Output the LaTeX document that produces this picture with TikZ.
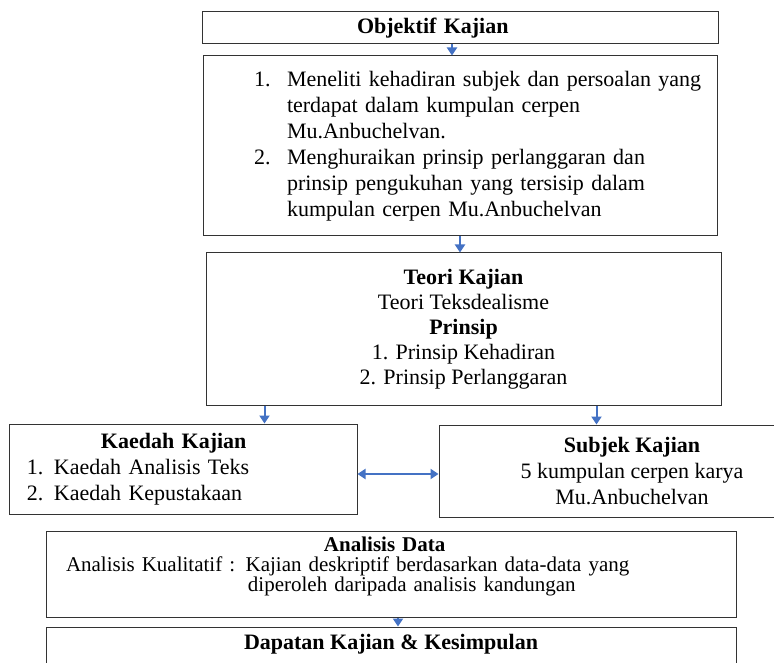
\documentclass[tikz,border=0pt]{standalone}
\usepackage{fontspec}
\setmainfont{Liberation Serif}
\usetikzlibrary{arrows.meta}
\definecolor{wordblue}{HTML}{4472C4}
\tikzstyle{box} = [rectangle, draw=black!80, line width=1pt, inner xsep=0pt, inner ysep=0pt, font=\fontsize{22}{26}\selectfont]
\tikzstyle{arrow} = [wordblue, line width=2pt, -{Triangle[width=10pt,length=8pt]}]
\tikzstyle{darrow} = [wordblue, line width=2pt, {Triangle[width=10pt,length=8pt]}-{Triangle[width=10pt,length=8pt]}]
\newcommand{\nomor}[2]{\makebox[#1][l]{#2}}

\begin{document}
\begin{tikzpicture}[x=1pt,y=-1pt]
    \useasboundingbox (0,0) rectangle (774,663);
    \clip (0,0) rectangle (774,663);
    \node (objektif) [box, minimum width=516, minimum height=32, text width=516, align=left] at (460,28)
        {\hspace*{155pt}\textbf{Objektif Kajian}};
    \node (tujuan) [box, minimum width=514, minimum height=180, text width=514, align=left] at (460,146)
        {\hspace*{51pt}\nomor{33pt}{1.}Meneliti kehadiran subjek dan persoalan yang\\
         \hspace*{84pt}terdapat dalam kumpulan cerpen\\
         \hspace*{84pt}Mu.Anbuchelvan.\\
         \hspace*{51pt}\nomor{33pt}{2.}Menghuraikan prinsip perlanggaran dan\\
         \hspace*{84pt}prinsip pengukuhan yang tersisip dalam\\
         \hspace*{84pt}kumpulan cerpen Mu.Anbuchelvan};
    \node (teori) [box, minimum width=515, minimum height=152, align=center, font=\fontsize{22}{25}\selectfont] at (463.5,329)
        {\textbf{Teori Kajian}\\ Teori Teksdealisme\\ \textbf{Prinsip}\\ 1. Prinsip Kehadiran\\ 2. Prinsip Perlanggaran};
    \node (kaedah) [box, minimum width=348, minimum height=90, text width=348, align=left] at (183,469)
        {\hspace*{92pt}\textbf{Kaedah Kajian}\\
         \hspace*{18pt}\nomor{27pt}{1.}Kaedah Analisis Teks\\
         \hspace*{18pt}\nomor{27pt}{2.}Kaedah Kepustakaan};
    \node (subjek) [box, minimum width=386, minimum height=92, align=center] at (632,471)
        {\textbf{Subjek Kajian}\\ 5 kumpulan cerpen karya\\ Mu.Anbuchelvan};
    \node (analisis) [box, minimum width=690, minimum height=86, text width=690, align=left, text depth=59pt, font=\fontsize{21}{20}\selectfont] at (391,574)
        {\hspace*{278pt}\textbf{Analisis Data}\\
         \hspace*{20pt}Analisis Kualitatif : Kajian deskriptif berdasarkan data-data yang\\
         \hspace*{202pt}diperoleh daripada analisis kandungan};
    \node (dapatan) [box, minimum width=690, minimum height=53, text depth=24pt, font=\fontsize{22}{26}\selectfont\bfseries] at (391,653.5)
        {Dapatan Kajian \& Kesimpulan};
    \draw [arrow] ([xshift=-8]objektif.south) -- ([xshift=-8]objektif.south |- tujuan.north);
    \draw [arrow] (tujuan.south) -- (tujuan.south |- teori.north);
    \draw [arrow] ([xshift=59]teori.south west) -- ([xshift=59]teori.south west |- kaedah.north);
    \draw [arrow] ([xshift=391]teori.south west) -- ([xshift=391]teori.south west |- subjek.north);
    \draw [darrow] ([yshift=-5]kaedah.east) -- ([yshift=-5]kaedah.east -| subjek.west);
    \draw [arrow] ([xshift=7]analisis.south) -- ([xshift=7]analisis.south |- dapatan.north);
\end{tikzpicture}
\end{document}
